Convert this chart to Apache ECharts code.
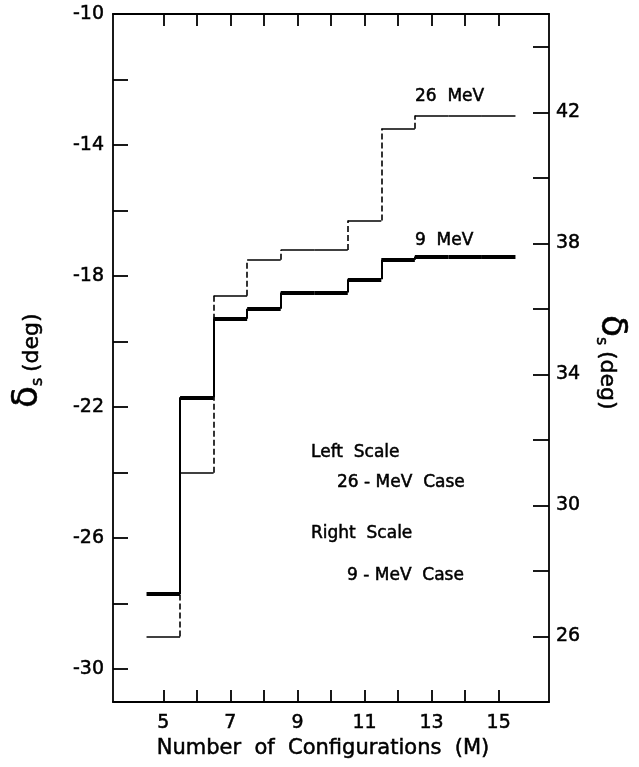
<!DOCTYPE html>
<html>
<head>
<meta charset="utf-8">
<script src="https://cdn.jsdelivr.net/npm/echarts@6/dist/echarts.min.js"></script>
<style>
html,body{margin:0;padding:0;background:#fff;}
#c{width:639px;height:767px;}
</style>
</head>
<body>
<div id="c"></div>
<script>
// ---- data ----
var configs = [5, 6, 7, 8, 9, 10, 11, 12, 13, 14, 15];
var delta26MeV = [-29.0, -24.0, -18.6, -17.5, -17.2, -17.2, -16.3, -13.5, -13.1, -13.1, -13.1]; // left scale
var delta9MeV = [27.3, 33.3, 35.7, 36.0, 36.5, 36.5, 36.9, 37.5, 37.6, 37.6, 37.6];            // right scale
var xTicks = [5, 6, 7, 8, 9, 10, 11, 12, 13, 14, 15];
var xLabels = [5, 7, 9, 11, 13, 15];
var leftTicks = [-30, -28, -26, -24, -22, -20, -18, -16, -14, -12, -10];
var leftLabels = [-30, -26, -22, -18, -14, -10];
var rightTicks = [26, 28, 30, 32, 34, 36, 38, 40, 42, 44];
var rightLabels = [26, 30, 34, 38, 42];

function horizontals(vals) {
  return configs.map(function (m, i) {
    return { coords: [[m - 0.5, vals[i]], [m + 0.5, vals[i]]] };
  });
}
function risers(vals) {
  var out = [];
  for (var i = 0; i < configs.length - 1; i++) {
    if (vals[i] !== vals[i + 1]) {
      out.push({ coords: [[configs[i] + 0.5, vals[i]], [configs[i] + 0.5, vals[i + 1]]] });
    }
  }
  return out;
}

var FONT = '"DejaVu Sans", sans-serif';
var chart = echarts.init(document.getElementById('c'), null, { renderer: 'canvas' });

var axisLine = { show: true, lineStyle: { color: '#000', width: 1.8 } };
var tickStyle = { color: '#000', width: 1.8 };
var labelBase = { color: '#000', fontFamily: FONT, fontSize: 19, textBorderColor: '#000', textBorderWidth: 0.5 };

function txt(x, y, s, size, align, vAlign, rot) {
  return {
    type: 'text', x: x, y: y, rotation: rot || 0,
    style: {
      text: s, font: size + 'px ' + FONT, fill: '#000',
      stroke: '#000', lineWidth: 0.5,
      align: align || 'left', verticalAlign: vAlign || 'middle',
      textAlign: align || 'left', textVerticalAlign: vAlign || 'middle'
    }
  };
}
var CCW = Math.PI / 2, CW = -Math.PI / 2;

var option = {
  animation: false,
  backgroundColor: '#fff',
  grid: { left: 113, right: 90, top: 14, bottom: 65, containLabel: false },
  xAxis: [
    {
      type: 'value', min: 3.5, max: 16.5, position: 'bottom',
      axisLine: axisLine,
      axisTick: { show: true, inside: true, length: 12, customValues: xTicks, lineStyle: tickStyle },
      axisLabel: Object.assign({ show: true, customValues: xLabels, margin: 12 }, labelBase),
      splitLine: { show: false }
    },
    {
      type: 'value', min: 3.5, max: 16.5, position: 'top',
      axisLine: axisLine,
      axisTick: { show: true, inside: true, length: 12, customValues: xTicks, lineStyle: tickStyle },
      axisLabel: { show: false },
      splitLine: { show: false }
    }
  ],
  yAxis: [
    {
      type: 'value', min: -31, max: -10, position: 'left',
      axisLine: axisLine,
      axisTick: { show: true, inside: true, length: 15, customValues: leftTicks, lineStyle: tickStyle },
      axisLabel: Object.assign({ show: true, customValues: leftLabels, margin: 9 }, labelBase),
      splitLine: { show: false }
    },
    {
      type: 'value', min: 24, max: 45, position: 'right',
      axisLine: axisLine,
      axisTick: { show: true, inside: true, length: 16, customValues: rightTicks, lineStyle: tickStyle },
      axisLabel: Object.assign({ show: true, customValues: rightLabels, margin: 7 }, labelBase),
      splitLine: { show: false }
    }
  ],
  series: [
    {
      type: 'lines', coordinateSystem: 'cartesian2d', xAxisIndex: 0, yAxisIndex: 0, polyline: false,
      lineStyle: { color: '#000', width: 1.6, opacity: 1, curveness: 0 },
      data: horizontals(delta26MeV), silent: true, z: 3
    },
    {
      type: 'lines', coordinateSystem: 'cartesian2d', xAxisIndex: 0, yAxisIndex: 0, polyline: false,
      lineStyle: { color: '#000', width: 1.6, opacity: 1, curveness: 0, type: [6, 3] },
      data: risers(delta26MeV), silent: true, z: 2
    },
    {
      type: 'lines', coordinateSystem: 'cartesian2d', xAxisIndex: 0, yAxisIndex: 1, polyline: false,
      lineStyle: { color: '#000', width: 4, opacity: 1, curveness: 0 },
      data: horizontals(delta9MeV), silent: true, z: 4
    },
    {
      type: 'lines', coordinateSystem: 'cartesian2d', xAxisIndex: 0, yAxisIndex: 1, polyline: false,
      lineStyle: { color: '#000', width: 2, opacity: 1, curveness: 0 },
      data: risers(delta9MeV), silent: true, z: 4
    }
  ],
  graphic: [
    txt(415, 97, '26  MeV', 17),
    txt(415, 241, '9  MeV', 17),
    txt(311, 453, 'Left  Scale', 17),
    txt(337, 483, '26 - MeV  Case', 17),
    txt(311, 534, 'Right  Scale', 17),
    txt(347, 576, '9 - MeV  Case', 17),
    txt(323, 749, 'Number  of  Configurations  (M)', 21, 'center'),
    // left axis title (reads bottom to top)
    txt(46, 408, 'δ', 36, 'left', 'bottom', CCW),
    txt(46, 386, 's', 16, 'left', 'bottom', CCW),
    txt(43, 372, '(deg)', 22, 'left', 'bottom', CCW),
    // right axis title (reads top to bottom)
    txt(593, 315, 'δ', 36, 'left', 'bottom', CW),
    txt(593, 337, 's', 16, 'left', 'bottom', CW),
    txt(596, 351, '(deg)', 22, 'left', 'bottom', CW)
  ]
};
chart.setOption(option);
</script>
</body>
</html>
